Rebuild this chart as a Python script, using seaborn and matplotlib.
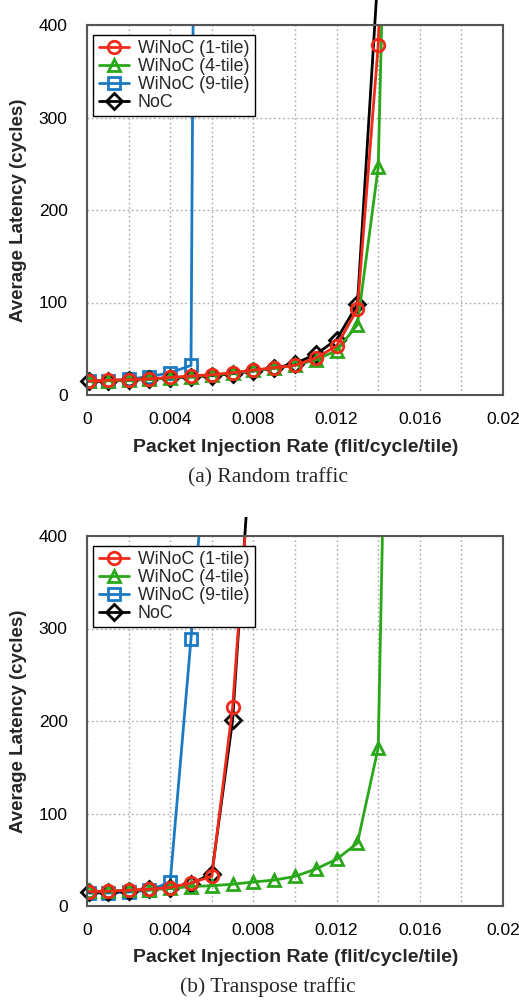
import numpy as np
import pandas as pd
import matplotlib
matplotlib.use("Agg")
import matplotlib.pyplot as plt
import seaborn as sns
from matplotlib.transforms import Bbox, TransformedBbox
from matplotlib.ticker import MultipleLocator, FixedLocator, FixedFormatter

sns.set_theme(style="white")
plt.rcParams['font.family'] = ['Liberation Sans', 'DejaVu Sans']

# ---------------- data ----------------
x_rate = [0.0001, 0.001, 0.002, 0.003, 0.004, 0.005, 0.006, 0.007,
          0.008, 0.009, 0.010, 0.011, 0.012, 0.013, 0.014, 0.015]

# (a) Random traffic
rand_1tile = [15, 16, 16.5, 17.5, 19, 20.5, 22, 24, 27, 29.5, 32, 40, 53, 93, 378, 1000]
rand_4tile = [15, 15.5, 16, 17, 18.5, 20, 21.5, 23.5, 26.5, 29, 32, 38, 48, 76, 246, 1170]
rand_9tile = [15, 15.5, 17, 20, 24, 32, 3700]
rand_noc = [15, 15.5, 16, 17, 18.5, 19.5, 21, 23, 26, 29, 34, 44, 60, 98, 460]

# (b) Transpose traffic
tran_1tile = [15.5, 16, 17, 18, 20, 25, 32, 215, 525]
tran_4tile = [16, 16, 17, 17.5, 19, 21, 22, 23.5, 26, 28, 32, 40, 50.5, 68, 171, 1300]
tran_9tile = [14, 14, 15, 17, 26, 289, 580]
tran_noc = [15, 15.5, 16.5, 18, 20, 24, 35, 201, 540]

series_names = ["WiNoC (1-tile)", "WiNoC (4-tile)", "WiNoC (9-tile)", "NoC"]
series_colors = ["#ee2a1b", "#2aa81a", "#1a7ac4", "#000000"]
series_markers = ["o", "^", "s", "D"]

x_ticks = [0, 0.002, 0.004, 0.006, 0.008, 0.010, 0.012, 0.014, 0.016, 0.018, 0.020]
x_tick_labels = ["0", "", "0.004", "", "0.008", "", "0.012", "", "0.016", "", "0.02"]
y_ticks = [0, 100, 200, 300, 400]
y_tick_labels = ["0", "100", "200", "300", "400"]
captions = ["(a) Random traffic", "(b) Transpose traffic"]

# ---------------- figure ----------------
fig = plt.figure(figsize=(5.19, 10.02), dpi=100)
W, H = 519, 1002
ax_left, ax_right = 87, 503
panels = [
    dict(top=25, bottom=395, data=[rand_1tile, rand_4tile, rand_9tile, rand_noc],
         noc_clip=(0.0, 1.0), cap_y=478, xlab_y=447),
    dict(top=536, bottom=906, data=[tran_1tile, tran_4tile, tran_9tile, tran_noc],
         noc_clip=(0.0, 1 - 517 / H), cap_y=987, xlab_y=957),
]

draw_order = [2, 3, 1, 0]  # blue, black, green, red (red on top)

for pi, p in enumerate(panels):
    ax = fig.add_axes([ax_left / W, 1 - p['bottom'] / H,
                       (ax_right - ax_left) / W, (p['bottom'] - p['top']) / H])
    handles = {}
    for si in draw_order:
        vals = p['data'][si]
        df = pd.DataFrame({"x": x_rate[:len(vals)], "y": vals})
        sns.lineplot(data=df, x="x", y="y", ax=ax, color=series_colors[si],
                     marker=series_markers[si], markersize=9 if si != 3 else 8,
                     markerfacecolor="none", markeredgecolor=series_colors[si],
                     markeredgewidth=2.0, linewidth=2.0, label=series_names[si],
                     legend=False, zorder=3 + draw_order.index(si))
        line = ax.lines[-1]
        handles[si] = line
        if si == 3:
            line.set_clip_on(True)
            y0, y1 = p['noc_clip']
            line.set_clip_box(TransformedBbox(Bbox([[0, y0], [1, y1]]), fig.transFigure))

    ax.set_xlim(0, 0.02)
    ax.set_ylim(0, 400)
    ax.xaxis.set_major_locator(FixedLocator(x_ticks))
    ax.xaxis.set_major_formatter(FixedFormatter(x_tick_labels))
    ax.xaxis.set_minor_locator(MultipleLocator(0.001))
    ax.yaxis.set_major_locator(FixedLocator(y_ticks))
    ax.yaxis.set_major_formatter(FixedFormatter(y_tick_labels))
    ax.yaxis.set_minor_locator(MultipleLocator(50))
    ax.tick_params(axis='both', which='both', direction='in', colors='#444444',
                   labelcolor='black', labelsize=12.5)
    ax.tick_params(axis='both', which='major', length=5, width=1)
    ax.tick_params(axis='both', which='minor', length=3, width=1)
    ax.tick_params(axis='x', which='major', pad=12)
    ax.tick_params(axis='y', which='major', pad=14)
    ax.grid(True, which='major', linestyle=(0, (1.2, 2)), color='#aaaaaa', linewidth=1.0)
    for s in ax.spines.values():
        s.set_color('#555555')
        s.set_linewidth(1.5)
        s.set_zorder(10)

    ax.set_xlabel("")
    ax.set_ylabel("Average Latency (cycles)", fontsize=13.5, fontweight='bold')
    ax.yaxis.label.set_va('center')
    ax.yaxis.set_label_coords((18 - ax_left) / (ax_right - ax_left), 0.5)
    fig.text(295.5 / W, 1 - p['xlab_y'] / H,
             "Packet Injection Rate (flit/cycle/tile)", fontsize=14,
             fontweight='bold', ha='center', va='center')
    fig.text(267.5 / W, 1 - p['cap_y'] / H, captions[pi],
             fontsize=15.5, family=['Liberation Serif', 'DejaVu Serif'],
             ha='center', va='center')

    leg = ax.legend([handles[i] for i in range(4)], series_names, loc='upper left',
                    bbox_to_anchor=(0.0, 0.99), fontsize=12.8, frameon=True, fancybox=False,
                    edgecolor='black', framealpha=1, handlelength=1.7, handletextpad=0.5,
                    labelspacing=0.05, borderpad=0.3, borderaxespad=0.35)
    leg.get_frame().set_linewidth(1.0)
    leg.set_zorder(20)

fig.savefig("out.png", dpi=100)
